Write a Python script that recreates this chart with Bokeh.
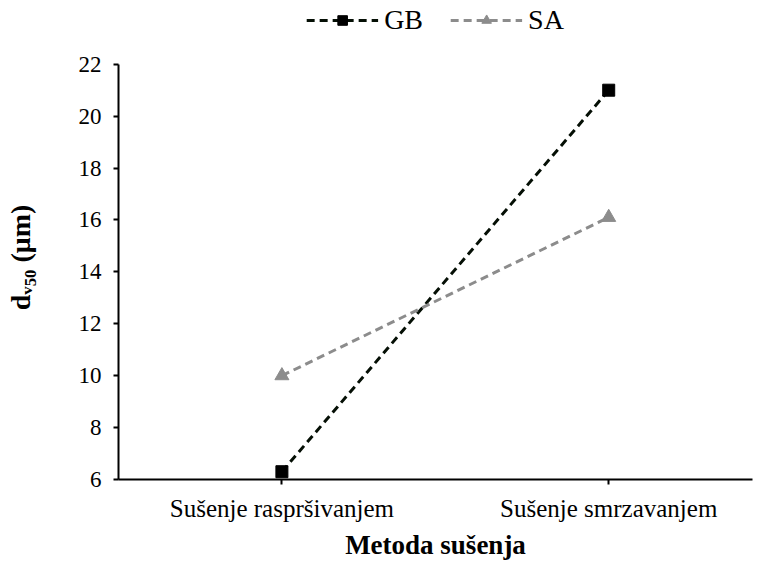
from bokeh.plotting import figure
from bokeh.models import Range1d, FixedTicker, Legend, LegendItem
from bokeh.embed import file_html
from bokeh.resources import INLINE

categories = ["Sušenje raspršivanjem", "Sušenje smrzavanjem"]
gb_values = [6.3, 21.0]
sa_values = [10.0, 16.1]
y_ticks = [6, 8, 10, 12, 14, 16, 18, 20, 22]

xs = [i + 0.5 for i in range(len(categories))]
FONT = "Liberation Serif"

# frame reaches the top of the canvas; the value axis is bounded to 6..22,
# leaving room for the legend above the data
y_top = 22 + 64 / (417 / 16)

p = figure(width=767, height=562, output_backend="svg", toolbar_location=None,
           x_range=Range1d(0, 1.94), y_range=Range1d(6, y_top),
           min_border_left=118, min_border_right=15, min_border_top=0, min_border_bottom=81)
p.outline_line_color = None
p.xgrid.grid_line_color = None
p.ygrid.grid_line_color = None
p.background_fill_color = "white"
p.border_fill_color = "white"

gb_line = p.line(xs, gb_values, line_color="#050f05", line_width=3, line_dash="8 5")
gb_pts = p.scatter(xs, gb_values, marker="square", size=12, fill_color="black", line_color="black")
sa_line = p.line(xs, sa_values, line_color="#8c8c8c", line_width=3, line_dash="8 5")
sa_pts = p.scatter(xs, sa_values, marker="triangle", size=14, fill_color="#8c8c8c", line_color="#8c8c8c")

for ax in (p.xaxis[0], p.yaxis[0]):
    ax.axis_line_color = "black"
    ax.axis_line_width = 2
    ax.major_tick_line_color = "black"
    ax.major_tick_line_width = 2
    ax.major_tick_out = 5
    ax.major_tick_in = 0
    ax.minor_tick_line_color = None
    ax.major_label_text_font = FONT
    ax.major_label_text_color = "black"
    ax.axis_label_text_font = FONT
    ax.axis_label_text_font_style = "bold"
    ax.axis_label_text_color = "black"

p.yaxis.ticker = FixedTicker(ticks=y_ticks)
p.yaxis.bounds = (6, 22)
p.yaxis.major_label_text_font_size = "23px"
p.yaxis.major_label_standoff = 12
# trailing non-breaking spaces shift the centred title down to the middle of the 6..22 axis
p.yaxis.axis_label = "dᵥ₅₀ (μm)" + "\u00a0" * 5
p.yaxis.axis_label_text_font_size = "28px"
p.yaxis.axis_label_standoff = 40

p.xaxis.ticker = FixedTicker(ticks=xs)
p.xaxis.major_label_overrides = {x: c for x, c in zip(xs, categories)}
p.xaxis.major_label_text_font_size = "25px"
p.xaxis.major_label_standoff = 10
p.xaxis.axis_label = "Metoda sušenja"
p.xaxis.axis_label_text_font_size = "27px"
p.xaxis.axis_label_standoff = 5

legend = Legend(items=[
    LegendItem(label="GB", renderers=[gb_line, gb_pts]),
    LegendItem(label="SA", renderers=[sa_line, sa_pts]),
], orientation="horizontal", location="top_center")
legend.label_text_font = FONT
legend.label_text_font_size = "28px"
legend.label_text_color = "black"
legend.glyph_width = 72
legend.glyph_height = 24
legend.label_standoff = 6
legend.spacing = 27
legend.padding = 4
legend.margin = 4
legend.border_line_color = None
legend.background_fill_alpha = 0
p.add_layout(legend)

open("out.html", "w").write(file_html(p, INLINE))
